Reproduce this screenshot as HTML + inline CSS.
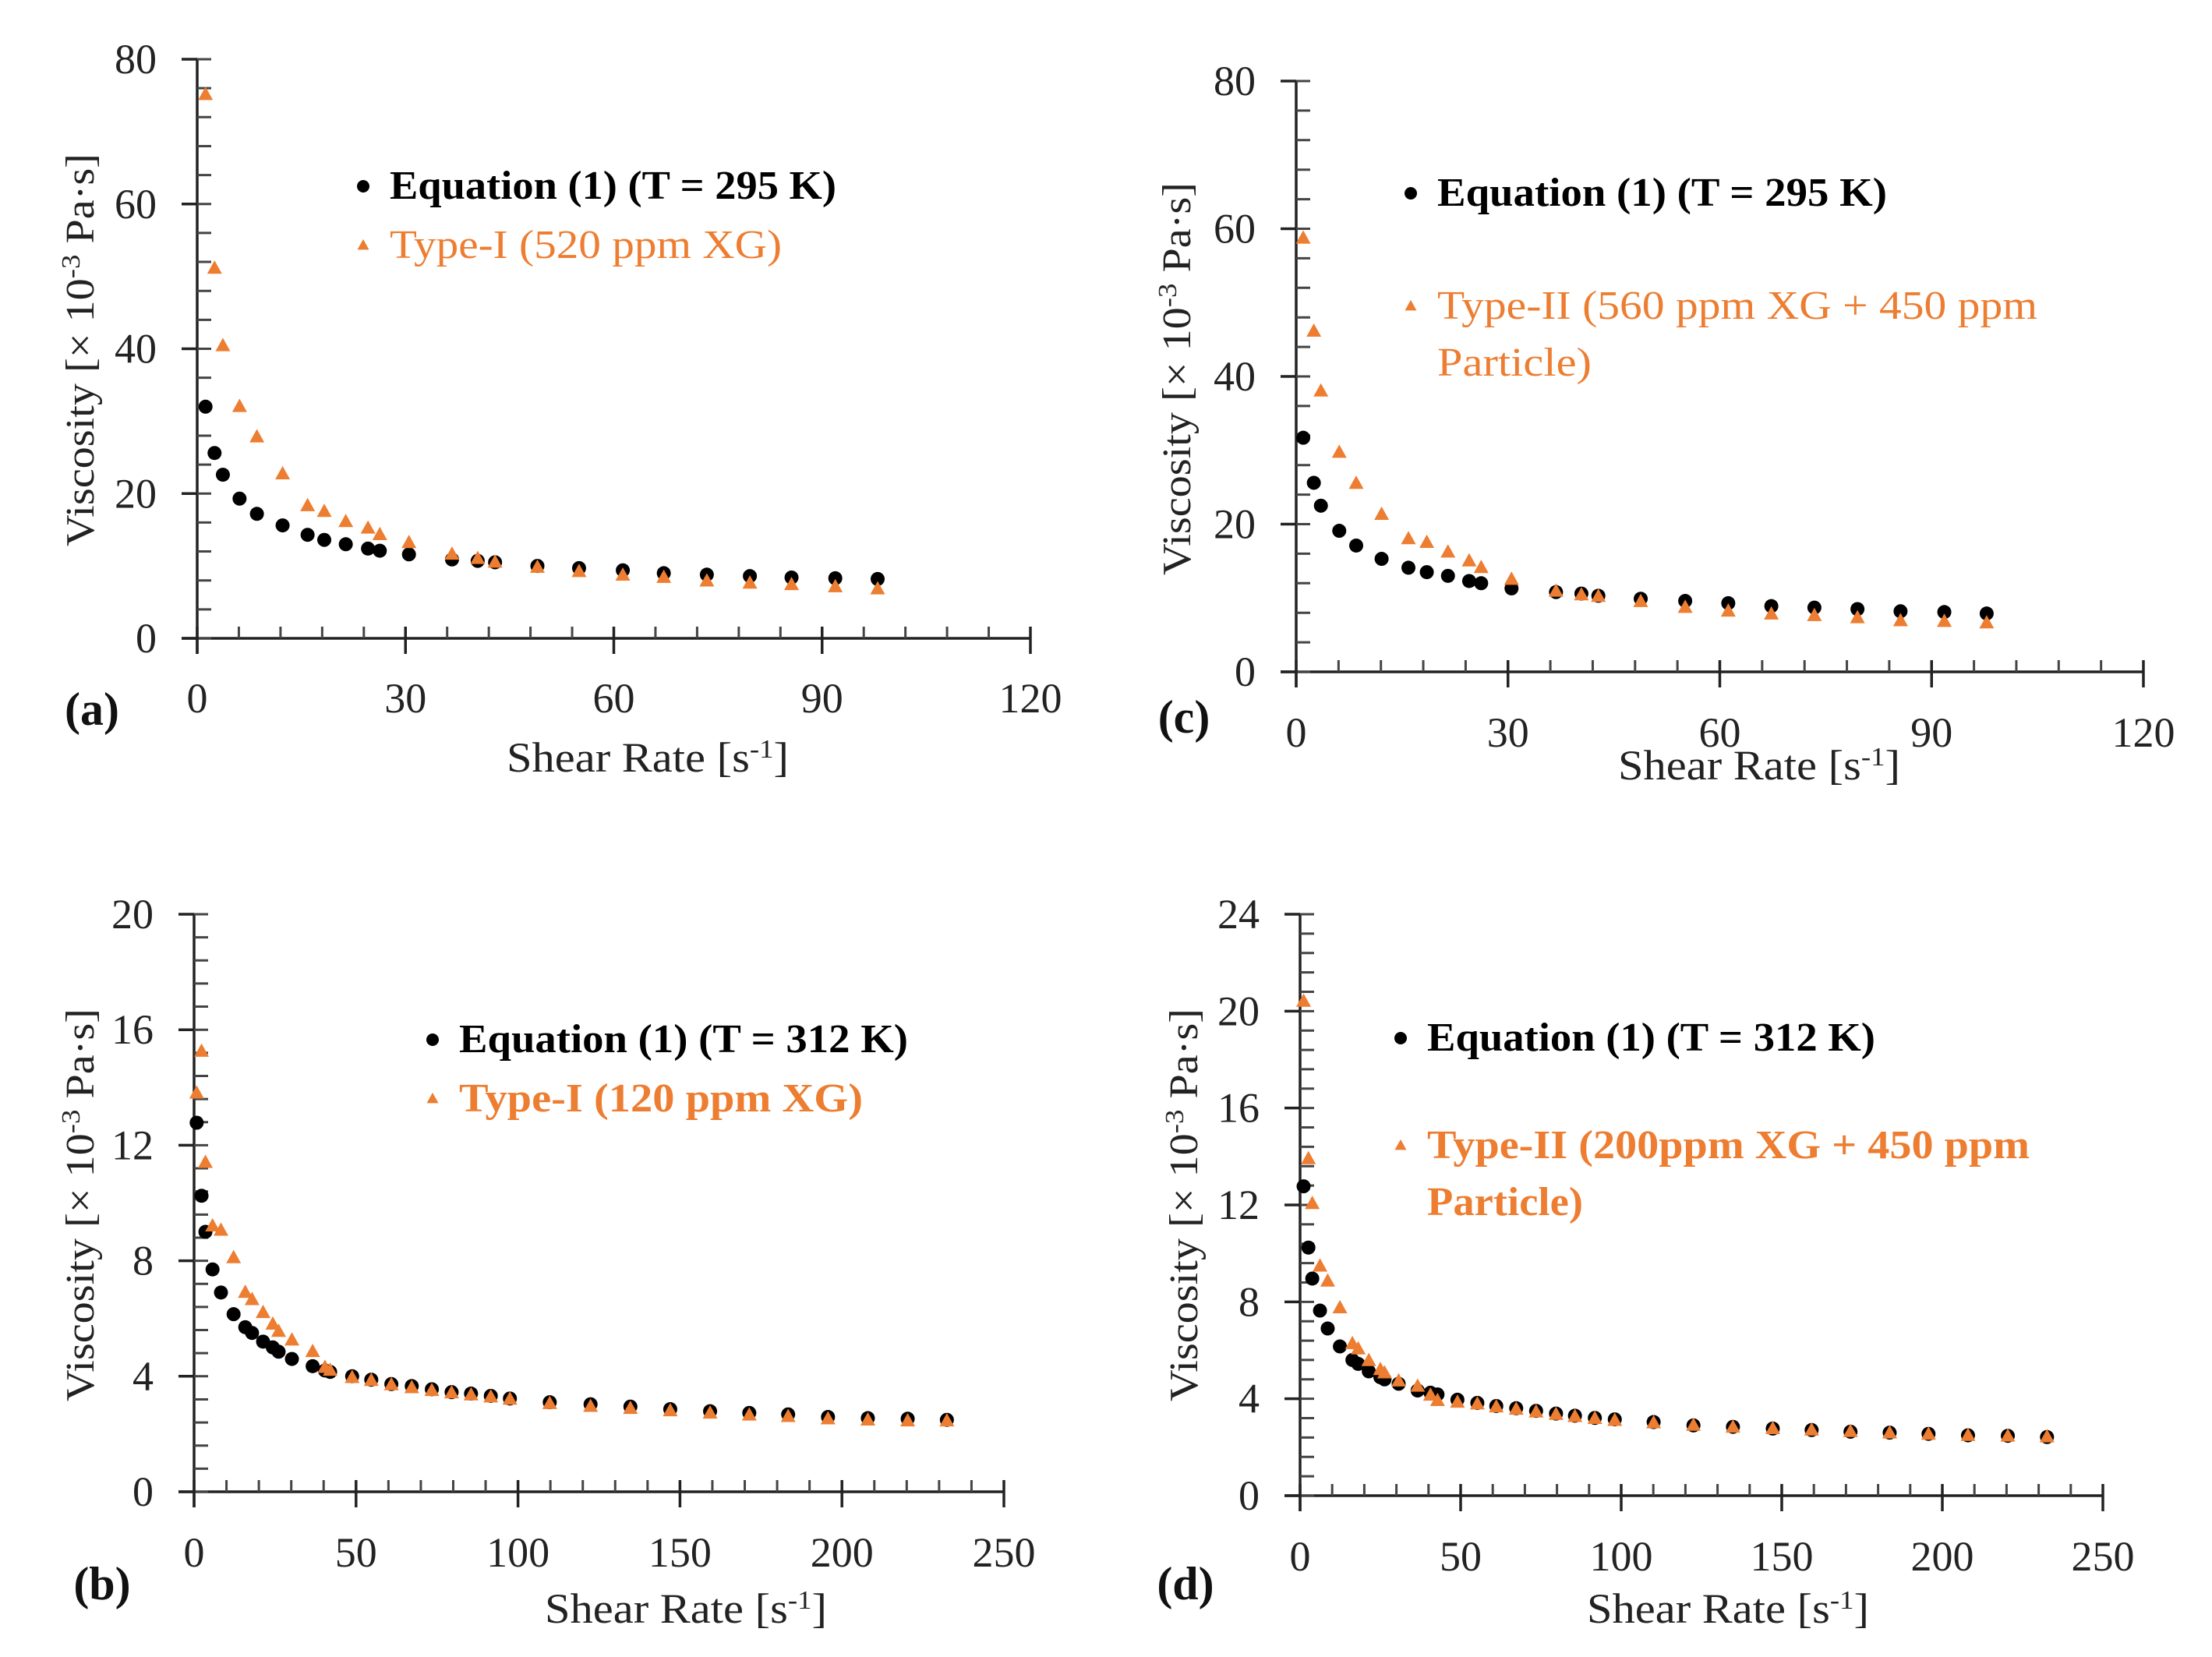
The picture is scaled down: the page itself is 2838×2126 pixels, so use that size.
<!DOCTYPE html>
<html><head><meta charset="utf-8"><style>
html,body{margin:0;padding:0;background:#fff;}
svg{display:block;}
text{font-family:"Liberation Serif","DejaVu Serif",serif;}
</style></head><body>
<svg id="fig" width="2838" height="2126" viewBox="0 0 2838 2126" xmlns="http://www.w3.org/2000/svg"></svg>
<script>
// ---- Panel (a) data ----
const xA = [1.2,2.5,3.7,6.1,8.6,12.3,15.9,18.3,21.4,24.6,26.3,30.5,36.7,40.4,42.9,49,55,61.3,67.2,73.4,79.6,85.6,91.9,98];
const eqA = [32,25.6,22.6,19.3,17.2,15.6,14.3,13.6,13,12.4,12.1,11.6,10.9,10.7,10.5,10,9.7,9.4,9,8.8,8.6,8.4,8.3,8.2];
const typeA = [75.1,51.1,40.4,32,27.8,22.7,18.3,17.5,16.1,15.2,14.3,13.2,11.6,11,10.5,9.8,9.2,8.7,8.4,7.9,7.6,7.4,7.1,6.8];
// ---- Panel (c) data ----
const xC = [1,2.5,3.5,6.1,8.5,12.1,15.9,18.5,21.5,24.5,26.2,30.5,36.8,40.4,42.8,48.8,55.1,61.2,67.3,73.4,79.5,85.6,91.8,97.8];
const eqC = [31.7,25.6,22.5,19.1,17.1,15.3,14.1,13.5,13,12.3,12,11.3,10.8,10.6,10.3,9.9,9.6,9.3,8.9,8.7,8.5,8.2,8.1,7.9];
const typeC = [58.7,46.1,38,29.7,25.5,21.3,18,17.5,16.2,15,14.1,12.5,10.9,10.4,10.2,9.5,8.7,8.2,7.8,7.6,7.3,6.9,6.8,6.6];
// ---- Panel (b) data ----
const xB = [0.8,2.3,3.5,5.7,8.3,12.2,15.8,17.9,21.3,24.3,26.1,30.2,36.6,40.4,42,48.8,54.7,60.9,67.2,73.4,79.5,85.5,91.6,97.5,109.8,122.4,134.7,147,159.3,171.4,183.4,195.7,208,220.3,232.4];
const eqB = [12.78,10.25,9.0,7.7,6.9,6.15,5.7,5.5,5.2,5.0,4.85,4.6,4.35,4.2,4.15,4.0,3.88,3.73,3.66,3.55,3.45,3.4,3.32,3.23,3.1,3.03,2.95,2.86,2.79,2.73,2.68,2.59,2.55,2.53,2.49];
const typeB = [13.8,15.25,11.4,9.2,9.05,8.1,6.9,6.65,6.2,5.8,5.55,5.25,4.85,4.3,4.2,3.95,3.85,3.7,3.6,3.5,3.42,3.35,3.28,3.2,3.05,2.95,2.88,2.8,2.72,2.65,2.6,2.52,2.48,2.45,2.45];
// ---- Panel (d) data ----
const xD = [1.1,2.6,3.8,6.2,8.6,12.4,16.3,18.1,21.4,25,26.3,30.7,36.6,40.6,42.8,49,55.2,61.1,67.3,73.5,79.7,85.6,91.8,98,110.1,122.5,134.8,147.2,159.3,171.4,183.6,195.7,208,220.4,232.6];
const eqD = [12.77,10.24,8.96,7.64,6.9,6.16,5.6,5.44,5.13,4.89,4.8,4.62,4.34,4.25,4.18,3.96,3.83,3.7,3.61,3.5,3.39,3.3,3.21,3.15,3.04,2.9,2.84,2.77,2.71,2.64,2.6,2.55,2.49,2.47,2.42];
const typeD = [20.4,13.9,12.05,9.47,8.85,7.75,6.27,6.05,5.57,5.2,5.06,4.73,4.51,4.14,3.92,3.85,3.78,3.66,3.56,3.45,3.35,3.26,3.18,3.1,3.0,2.9,2.82,2.76,2.7,2.64,2.58,2.53,2.48,2.45,2.42];
// ---- tick labels ----
const yTicksAC = [0,20,40,60,80];
const xTicksAC = [0,30,60,90,120];
const yTicksB = [0,4,8,12,16,20];
const yTicksD = [0,4,8,12,16,20,24];
const xTicksBD = [0,50,100,150,200,250];

const NS = "http://www.w3.org/2000/svg";
const svg = document.getElementById('fig');
const ORANGE = "#ED7D31";
function mk(tag, attrs, parent){
  const e = document.createElementNS(NS, tag);
  for (const k in attrs) e.setAttribute(k, attrs[k]);
  (parent||svg).appendChild(e);
  return e;
}
function tri(g, cx, cy, s){
  const h = s*0.9;
  return mk('polygon', {points:`${cx},${cy-h*0.6} ${cx-s/2},${cy+h*0.4} ${cx+s/2},${cy+h*0.4}`, fill:ORANGE}, g);
}

function panel(cfg, xs, eq, ty){
  const g = mk('g', {});
  
  
  const sx = v => cfg.x0 + (v - 0) / cfg.xMax * (cfg.x1 - cfg.x0);
  const sy = v => cfg.y0 - v / cfg.yMax * (cfg.y0 - cfg.y1);
  const axc = "#222";
  const ya = mk('line', {x1:cfg.x0, y1:cfg.y1, x2:cfg.x0, y2:cfg.y0+20, stroke:axc, 'stroke-width':3.5}, g);
  
  
  const xa = mk('line', {x1:cfg.x0-20, y1:cfg.y0, x2:cfg.x1, y2:cfg.y0, stroke:axc, 'stroke-width':3.5}, g);
  
  
  for (let v = 0; v <= cfg.yMax + 1e-9; v += cfg.yMinor) {
    const y = sy(v);
    mk('line', {x1:cfg.x0, y1:y, x2:cfg.x0+18, y2:y, stroke:"#444", 'stroke-width':3}, g);
  }
  for (let v = 0; v <= cfg.xMax + 1e-9; v += cfg.xMinor) {
    const x = sx(v);
    mk('line', {x1:x, y1:cfg.y0, x2:x, y2:cfg.y0-15, stroke:"#444", 'stroke-width':3}, g);
  }
  cfg.yTicks.forEach(v => {
    const y = sy(v);
    mk('line', {x1:cfg.x0-20, y1:y, x2:cfg.x0, y2:y, stroke:axc, 'stroke-width':3.5}, g);
    const t = mk('text', {x:cfg.x0-52, y:y+18, 'text-anchor':'end', 'font-size':54, fill:'#222'}, g);
    t.textContent = v;
    
    
  });
  cfg.xTicks.forEach(v => {
    const x = sx(v);
    mk('line', {x1:x, y1:cfg.y0-15, x2:x, y2:cfg.y0+20, stroke:axc, 'stroke-width':3.5}, g);
    const t = mk('text', {x:x, y:cfg.y0+cfg.xlabDy, 'text-anchor':'middle', 'font-size':54, fill:'#222'}, g);
    t.textContent = v;
    
    
  });
  const xt = mk('text', {x:cfg.xtX, y:cfg.xtY, 'text-anchor':'middle', 'font-size':54, fill:'#222', textLength:362, lengthAdjust:'spacingAndGlyphs'}, g);
  xt.innerHTML = 'Shear Rate [s<tspan dy="-18" font-size="34">-1</tspan><tspan dy="18">]</tspan>';
  
  
  const yt = mk('text', {x:0, y:0, 'text-anchor':'middle', 'font-size':52, fill:'#222', transform:`translate(${cfg.ytX},${cfg.ytY}) rotate(-90)`, textLength:504, lengthAdjust:'spacingAndGlyphs'}, g);
  yt.innerHTML = 'Viscosity [× 10<tspan dy="-18" font-size="34">-3</tspan><tspan dy="18"> Pa·s]</tspan>';
  
  
  const pl = mk('text', {x:cfg.plX, y:cfg.plY, 'text-anchor':'middle', 'font-size':60, 'font-weight':'bold', fill:'#111'}, g);
  pl.textContent = '(' + cfg.id + ')';
  
  
  const ge = mk('g', {}, g);
  
  
  xs.forEach((xv, i) => {
    const c = mk('circle', {cx:sx(xv), cy:sy(eq[i]), r:9, fill:'#000'}, ge);
    
    
  });
  const gt = mk('g', {}, g);
  
  
  xs.forEach((xv, i) => {
    const p = tri(gt, sx(xv), sy(ty[i]), 19);
    
    
  });
  const lg = mk('g', {}, g);
  
  
  mk('circle', {cx:cfg.lgX, cy:cfg.l1Y-16, r:8, fill:'#000'}, lg);
  const t1 = mk('text', {x:cfg.lgX+34, y:cfg.l1Y, 'font-size':52, 'font-weight':'bold', fill:'#000', textLength:cfg.l1W, lengthAdjust:'spacingAndGlyphs'}, lg);
  t1.textContent = cfg.l1;
  
  
  tri(lg, cfg.lgX, cfg.l2Y-16, 15);
  cfg.l2.forEach((line, k) => {
    const t2 = mk('text', {x:cfg.lgX+34, y:cfg.l2Y + k*73, 'font-size':52, 'font-weight':cfg.l2Bold?'bold':'normal', fill:ORANGE, textLength:cfg.l2W[k], lengthAdjust:'spacingAndGlyphs'}, lg);
    t2.textContent = line;
    
    
  });
}

panel({id:'a', x0:253, x1:1322, y0:819, y1:76, xMax:120, yMax:80, xMinor:6, yMinor:4, yTicks:yTicksAC, xTicks:xTicksAC, xlabDy:95,
  xtX:831, xtY:990, ytX:120, ytY:449, plX:118, plY:930,
  lgX:466, l1Y:255, l1W:573, l1:'Equation (1) (T = 295 K)', l2Y:331, l2:['Type-I (520 ppm XG)'], l2W:[503], l2Bold:false}, xA, eqA, typeA);
panel({id:'c', x0:1663, x1:2750, y0:862, y1:104, xMax:120, yMax:80, xMinor:6, yMinor:4, yTicks:yTicksAC, xTicks:xTicksAC, xlabDy:96,
  xtX:2257, xtY:1000, ytX:1527, ytY:486, plX:1519, plY:940,
  lgX:1810, l1Y:264, l1W:577, l1:'Equation (1) (T = 295 K)', l2Y:409, l2:['Type-II (560 ppm XG + 450 ppm','Particle)'], l2W:[770,198], l2Bold:false}, xC, eqC, typeC);
panel({id:'b', x0:249, x1:1288, y0:1914, y1:1173, xMax:250, yMax:20, xMinor:10, yMinor:0.8, yTicks:yTicksB, xTicks:xTicksBD, xlabDy:96,
  xtX:880, xtY:2082, ytX:120, ytY:1546, plX:131, plY:2052,
  lgX:555, l1Y:1350, l1W:576, l1:'Equation (1) (T = 312 K)', l2Y:1426, l2:['Type-I (120 ppm XG)'], l2W:[518], l2Bold:true}, xB, eqB, typeB);
panel({id:'d', x0:1668, x1:2698, y0:1919, y1:1173, xMax:250, yMax:24, xMinor:10, yMinor:0.8, yTicks:yTicksD, xTicks:xTicksBD, xlabDy:96,
  xtX:2217, xtY:2082, ytX:1536, ytY:1546, plX:1521, plY:2052,
  lgX:1797, l1Y:1348, l1W:575, l1:'Equation (1) (T = 312 K)', l2Y:1486, l2:['Type-II (200ppm XG + 450 ppm','Particle)'], l2W:[773,200], l2Bold:true}, xD, eqD, typeD);
</script>
</body></html>
